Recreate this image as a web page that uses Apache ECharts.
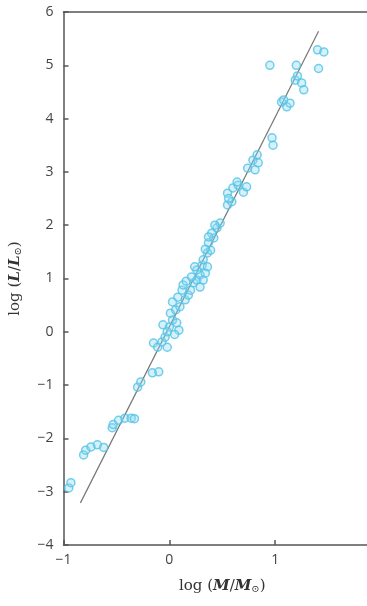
<!DOCTYPE html>
<html><head><meta charset="utf-8">
<script src="https://cdn.jsdelivr.net/npm/echarts@6/dist/echarts.min.js"></script>
<style>html,body{margin:0;padding:0;background:#fff;overflow:hidden;width:367px;height:606px}#c{width:384px;height:606px}</style>
</head><body><div id="c"></div>
<script>
const logM = [-0.95,-0.93,-0.81,-0.79,-0.74,-0.68,-0.62,-0.54,-0.53,-0.48,-0.42,-0.36,-0.33,
-0.30,-0.27,-0.16,-0.10,-0.15,-0.11,-0.07,-0.02,-0.04,-0.06,0.0,0.03,-0.02,0.07,0.09,0.05,
0.01,0.06,0.03,0.10,0.08,0.12,0.15,0.18,0.20,0.13,0.16,
0.23,0.26,0.21,0.29,0.26,0.31,0.36,0.29,0.32,0.24,0.34,
0.32,0.36,0.39,0.37,0.42,0.40,0.45,0.48,0.43,0.37,0.34,
0.55,0.59,0.55,0.60,0.65,0.70,0.73,0.64,0.56,
0.74,0.79,0.83,0.84,0.81,0.97,0.98,
1.06,1.11,1.14,1.08,1.19,1.25,1.27,1.21,
0.95,1.20,1.41,1.40,1.46];
const logL = [-2.93,-2.83,-2.31,-2.22,-2.16,-2.12,-2.17,-1.80,-1.74,-1.66,-1.62,-1.62,-1.63,
-1.04,-0.94,-0.77,-0.75,-0.21,-0.29,-0.19,-0.29,-0.10,0.13,0.09,0.22,0.0,0.17,0.03,-0.05,
0.35,0.41,0.56,0.47,0.65,0.78,0.60,0.69,0.78,0.88,0.95,
0.92,0.97,1.03,1.07,1.16,1.25,1.22,0.84,0.97,1.22,1.10,
1.35,1.48,1.53,1.67,1.76,1.85,1.95,2.04,2.00,1.78,1.55,
2.38,2.44,2.60,2.70,2.75,2.62,2.72,2.81,2.50,
3.07,3.22,3.32,3.17,3.04,3.64,3.50,
4.31,4.22,4.29,4.35,4.72,4.67,4.54,4.80,
5.00,5.00,4.94,5.29,5.25];
const fitM = [-0.84, 1.41];
const fitL = [-3.21, 5.64];
const xTicks = [-1, 0, 1];
const yTicks = [-4,-3,-2,-1,0,1,2,3,4,5,6];

const chart = echarts.init(document.getElementById('c'), null, {renderer:'canvas'});
const axisLineStyle = {color:'#555', width:1.5};
const tickLabel = {color:'#444', fontSize:14, fontFamily:'Open Sans, sans-serif'};
const serif = 'DejaVu Serif, Liberation Serif, serif';
const rich = {n:{fontFamily:serif,fontSize:15,color:'#333'},i:{fontFamily:serif,fontSize:15,fontStyle:'italic',fontWeight:'bold',color:'#333'},s:{fontFamily:serif,fontSize:10,color:'#333',verticalAlign:'bottom',padding:[6,0,0,0]}};
chart.setOption({
  animation:false,
  grid:{left:63, top:12, right:3, bottom:61, containLabel:false},
  xAxis:[{
    type:'value', min:-1, max:2, interval:1, position:'bottom',
    axisLine:{show:true, onZero:false, lineStyle:axisLineStyle},
    axisTick:{show:true, inside:true, length:5, lineStyle:axisLineStyle},
    axisLabel:Object.assign({margin:8, formatter:v=> xTicks.includes(v)? String(v).replace('-','\u2212'):''}, tickLabel),
    splitLine:{show:false},
    name:'{n|log (}{i|M}{n|/}{i|M}{s|\u2299}{n|)}', nameLocation:'middle', nameGap:33,
    nameTextStyle:{rich:rich}
  },{
    type:'value', min:-1, max:2, position:'top',
    axisLine:{show:true, onZero:false, lineStyle:axisLineStyle},
    axisTick:{show:false}, axisLabel:{show:false}, splitLine:{show:false}
  }],
  yAxis:{
    type:'value', min:-4, max:6, interval:1,
    axisLine:{show:true, onZero:false, lineStyle:axisLineStyle},
    axisTick:{show:true, inside:true, length:5, lineStyle:axisLineStyle},
    axisLabel:Object.assign({margin:10, formatter:v=> yTicks.includes(v)? String(v).replace('-','\u2212'):''}, tickLabel),
    splitLine:{show:false},
    name:'{n|log (}{i|L}{n|/}{i|L}{s|\u2299}{n|)}', nameLocation:'middle', nameGap:40, nameRotate:90,
    nameTextStyle:{rich:rich}
  },
  series:[{
    type:'scatter', xAxisIndex:0, symbol:'circle', symbolSize:8,
    data: logM.map((m,i)=>[m, logL[i]]),
    itemStyle:{color:'rgba(140,215,240,0.45)', borderColor:'#52c3e6', borderWidth:1.5}
  },{
    type:'line', xAxisIndex:0, data: fitM.map((m,i)=>[m, fitL[i]]),
    showSymbol:false, symbol:'none', lineStyle:{color:'#777', width:1.2}, z:1
  }]
});
</script></body></html>
